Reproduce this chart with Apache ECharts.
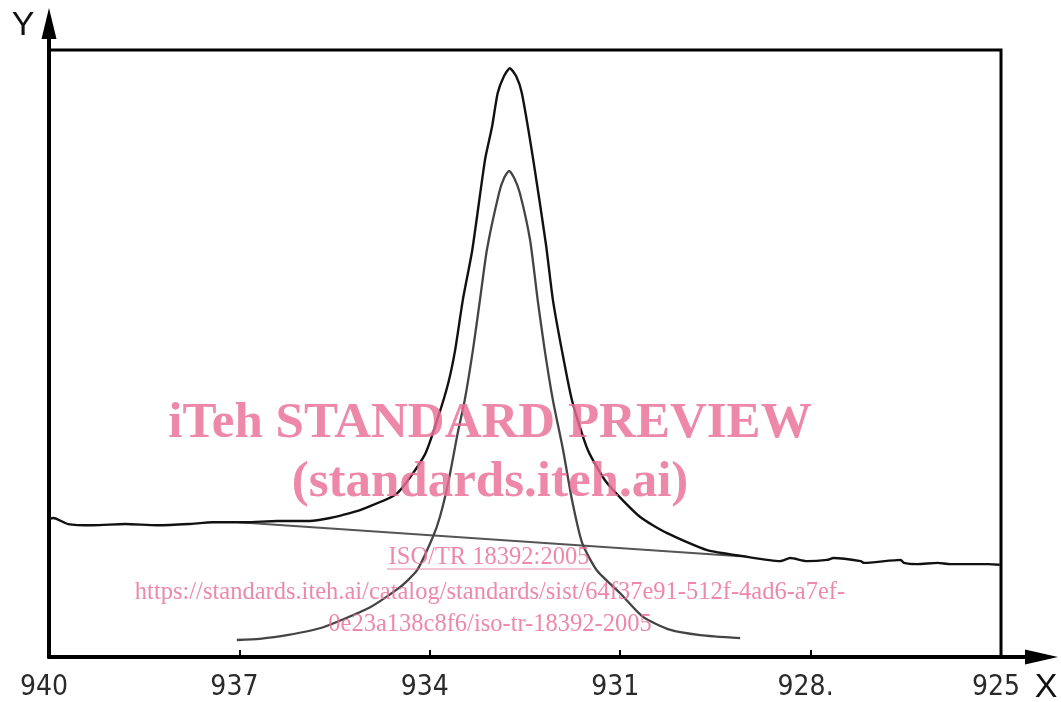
<!DOCTYPE html>
<html><head><meta charset="utf-8">
<script src="https://cdn.jsdelivr.net/npm/echarts@6/dist/echarts.min.js"></script>
<style>html,body{margin:0;padding:0;background:#fff}#c{width:1061px;height:702px}</style>
</head><body><div id="c"></div>
<script>
// X axis (binding energy, reversed) ticks and labels
const xTicks = [940, 937, 934, 931, 928, 925];
const xTickLabels = ['940', '937', '934', '931', '928.', '925'];
const xName = 'X';
const yName = 'Y';

// Raw spectrum (black)
const rawSpectrum = [
  [940.00,22.7],[939.93,22.9],[939.70,21.9],[939.30,21.7],[938.80,21.9],[938.30,21.7],
  [937.80,21.9],[937.42,22.2],[936.90,22.2],[936.40,22.4],[935.89,22.4],[935.57,22.9],
  [935.26,23.7],[935.05,24.4],[934.52,26.9],[934.08,33.3],[933.87,39.5],[933.71,45.1],
  [933.60,50.6],[933.48,58.8],[933.33,67.1],[933.13,81.9],[933.02,87.3],[932.93,92.9],
  [932.83,95.7],[932.74,97.0],[932.64,95.7],[932.55,92.9],[932.37,81.9],[932.17,68.0],
  [932.06,58.8],[931.92,50.6],[931.76,42.3],[931.51,34.1],[931.21,28.7],[930.69,23.1],
  [930.26,20.4],[929.63,17.6],[929.06,16.6],[928.48,15.8],[928.32,16.3],[928.06,15.8],
  [927.74,16.0],[927.64,16.3],[927.21,15.8],[927.16,15.5],[926.58,16.0],[926.53,15.5],
  [926.32,15.3],[926.00,15.5],[925.80,15.3],[925.20,15.3],[925.02,15.2]
];
// Background-subtracted peak (grey)
const peak = [
  [937.04,2.8],[936.68,3.0],[936.25,3.6],[935.68,4.9],[934.94,8.2],[934.47,11.5],
  [934.20,14.3],[933.95,19.8],[933.84,23.1],[933.71,28.7],[933.56,36.9],[933.45,42.3],
  [933.32,50.6],[933.21,58.8],[933.10,67.1],[932.91,76.4],[932.83,78.9],[932.75,80.1],
  [932.67,78.9],[932.58,76.4],[932.42,68.7],[932.30,58.8],[932.19,50.6],
  [932.06,42.3],[931.90,34.1],[931.76,25.9],[931.60,18.8],[931.37,14.3],[931.00,10.5],
  [930.64,6.6],[930.22,4.5],[929.74,3.6],[929.11,3.1]
];
// Linear background (grey)
const background = [[937.01,22.2],[929.11,16.6]];

const pink = 'rgba(233,110,150,0.82)';

const chart = echarts.init(document.getElementById('c'));
chart.setOption({
  animation: false,
  backgroundColor: '#fff',
  grid: {left: 49, right: 60, top: 50, bottom: 45, show: true, borderColor: '#000', borderWidth: 3, containLabel: false},
  xAxis: {
    type: 'value', min: 925, max: 940, interval: 3, inverse: true,
    axisLine: {show: true, onZero: false, lineStyle: {color: '#000', width: 4}},
    axisTick: {show: true, inside: true, length: 7, lineStyle: {color: '#000', width: 2}},
    splitLine: {show: false},
    axisLabel: {
      show: true, margin: 17, color: '#2a2a2a', fontSize: 28,
      fontFamily: '"Liberation Sans Narrow","Arial Narrow","DejaVu Sans Condensed",sans-serif',
      padding: [0, 10, 0, 0], showMinLabel: true, showMaxLabel: true,
      formatter: v => { const i = xTicks.indexOf(Math.round(v)); return i >= 0 ? xTickLabels[i] : ''; }
    }
  },
  yAxis: {
    type: 'value', min: 0, max: 100,
    axisLine: {show: true, onZero: false, lineStyle: {color: '#000', width: 4}},
    axisTick: {show: false}, axisLabel: {show: false}, splitLine: {show: false}
  },
  series: [
    {type: 'line', data: background, showSymbol: false, lineStyle: {color: '#555', width: 2.2}, z: 2},
    {type: 'line', data: peak, showSymbol: false, smooth: 0.2, lineStyle: {color: '#444', width: 2.3}, z: 3},
    {type: 'line', data: rawSpectrum, showSymbol: false, smooth: 0.2, lineStyle: {color: '#111', width: 2.4}, z: 4}
  ]
});

const pb = chart.convertToPixel({gridIndex: 0}, [925, 0]);
const pt = chart.convertToPixel({gridIndex: 0}, [940, 100]);
const R = pb[0], B = pb[1], L = pt[0], T = pt[1];
const serif = '"Liberation Serif","Times New Roman",serif';

chart.setOption({
  graphic: [
    // axis extensions and arrow heads
    {type: 'line', shape: {x1: R, y1: B, x2: R + 30, y2: B}, style: {stroke: '#000', lineWidth: 4}, z: 50},
    {type: 'polygon', shape: {points: [[R + 24, B - 7.5], [R + 57, B], [R + 24, B + 7.5]]}, style: {fill: '#000'}, z: 50},
    {type: 'line', shape: {x1: L, y1: T, x2: L, y2: T - 15}, style: {stroke: '#000', lineWidth: 4}, z: 50},
    {type: 'polygon', shape: {points: [[L - 7.5, T - 11], [L, T - 42], [L + 7.5, T - 11]]}, style: {fill: '#000'}, z: 50},
    {type: 'text', x: R + 45, y: B + 31, style: {text: xName, fill: '#111', font: '34px "Liberation Sans",Arial,sans-serif', textAlign: 'center', textVerticalAlign: 'middle'}, z: 50},
    {type: 'text', x: L - 26, y: T - 24, style: {text: yName, fill: '#111', font: '34px "Liberation Sans",Arial,sans-serif', textAlign: 'center', textVerticalAlign: 'middle'}, z: 50},
    // watermark
    {type: 'text', x: 490, y: 424, style: {text: 'iTeh STANDARD PREVIEW', fill: pink, font: 'bold 51px ' + serif, textAlign: 'center', textVerticalAlign: 'middle'}, z: 100},
    {type: 'text', x: 490, y: 483, style: {text: '(standards.iteh.ai)', fill: pink, font: 'bold 51px ' + serif, textAlign: 'center', textVerticalAlign: 'middle'}, z: 100},
    {type: 'text', x: 489, y: 558, style: {text: 'ISO/TR 18392:2005', fill: pink, font: '24.5px ' + serif, textAlign: 'center', textVerticalAlign: 'middle'}, z: 100},
    {type: 'line', shape: {x1: 387, y1: 569, x2: 591, y2: 569}, style: {stroke: pink, lineWidth: 1.2}, z: 100},
    {type: 'text', x: 490, y: 593, style: {text: 'https://standards.iteh.ai/catalog/standards/sist/64f37e91-512f-4ad6-a7ef-', fill: pink, font: '24.5px ' + serif, textAlign: 'center', textVerticalAlign: 'middle'}, z: 100},
    {type: 'text', x: 490, y: 625, style: {text: '0e23a138c8f6/iso-tr-18392-2005', fill: pink, font: '24.5px ' + serif, textAlign: 'center', textVerticalAlign: 'middle'}, z: 100}
  ]
});
</script>
</body></html>
